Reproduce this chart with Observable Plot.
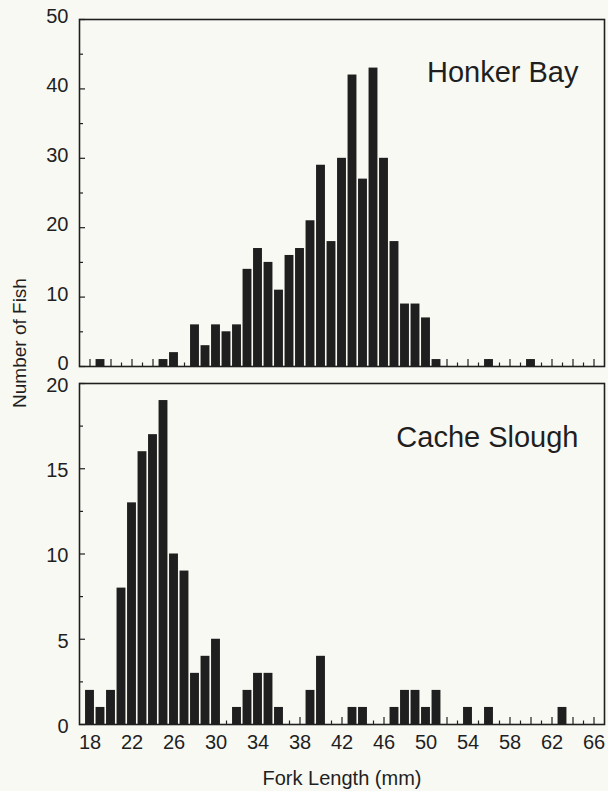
<!DOCTYPE html>
<html><head><meta charset="utf-8">
<script src="https://cdn.jsdelivr.net/npm/d3@7"></script>
<script src="https://cdn.jsdelivr.net/npm/@observablehq/plot@0.6"></script>
<style>
html,body{margin:0;padding:0;background:#f9f9f4;}
#wrap{position:relative;width:608px;height:791px;font-family:"Liberation Sans",Arial,sans-serif;}
#wrap svg{display:block}
#ylab{position:absolute;left:20px;top:343px;transform:translate(-50%,-50%) rotate(-90deg);font-size:19px;white-space:nowrap;color:#1f1f1f}
</style></head><body>
<div id="wrap"><div id="top"></div><div id="bottom"></div><div id="ylab">Number of Fish</div></div>
<script>
// Fork length bins (mm)
const forkLength = [18,19,20,21,22,23,24,25,26,27,28,29,30,31,32,33,34,35,36,37,38,39,40,41,42,43,44,45,46,47,48,49,50,51,52,53,54,55,56,57,58,59,60,61,62,63,64,65,66];
// Number of fish, Honker Bay
const honkerBay = [0,1,0,0,0,0,0,1,2,0,6,3,6,5,6,14,17,15,11,16,17,21,29,18,30,42,27,43,30,18,9,9,7,1,0,0,0,0,1,0,0,0,1,0,0,0,0,0,0];
// Number of fish, Cache Slough
const cacheSlough = [2,1,2,8,13,16,17,19,10,9,3,4,5,0,1,2,3,3,1,0,0,2,4,0,0,1,1,0,0,1,2,2,1,2,0,0,1,0,1,0,0,0,0,0,0,1,0,0,0];
// Tick values
const xTickLabels = [18,22,26,30,34,38,42,46,50,54,58,62,66];
const evenTicks = [18,20,22,24,26,28,30,32,34,36,38,40,42,44,46,48,50,52,54,56,58,60,62,64,66];
const oddTicks = [19,21,23,25,27,29,31,33,35,37,39,41,43,45,47,49,51,53,55,57,59,61,63,65];
const honkerMajorY = [0,10,20,30,40,50];
const honkerMinorY = [5,15,25,35,45];
const cacheMajorY = [0,5,10,15,20];
const cacheMinorY = [2.5,7.5,12.5,17.5];

const ink = "#1f1f1f";

function panel({counts, yDomain, majorY, minorY, title, height, marginTop, marginBottom, showX, titleDy, labelDy}) {
  const data = forkLength.map((len, i) => ({len, n: counts[i]})).filter(d => d.n > 0);
  const marks = [
    Plot.rectY(data, {x1: d => d.len - 0.5, x2: d => d.len + 0.5, y: "n", insetLeft: 0.8, insetRight: 0.8, fill: ink}),
    Plot.axisX(evenTicks, {tickSize: 7, dy: -7, fill: "none", stroke: ink, strokeWidth: 1.2, label: null}),
    Plot.axisX(oddTicks, {tickSize: 3.5, dy: -3.5, fill: "none", stroke: ink, strokeWidth: 1.2, label: null}),
    Plot.axisY(majorY, {tickSize: 6, dx: 6, fill: "none", stroke: ink, strokeWidth: 1.2, label: null}),
    Plot.axisY(minorY, {tickSize: 4, dx: 4, fill: "none", stroke: ink, strokeWidth: 1.2, label: null}),
    Plot.axisY(majorY, {tickSize: 0, tickPadding: 11, dy: labelDy, fontSize: 20, fill: ink, label: null}),
    Plot.frame({stroke: ink, strokeWidth: 1.6}),
    Plot.text([title], {frameAnchor: "top-right", dx: -26, dy: titleDy, lineAnchor: "middle", textAnchor: "end", fontSize: 29, fill: ink})
  ];
  if (showX) {
    marks.push(Plot.axisX(xTickLabels, {tickSize: 0, tickPadding: 10, fontSize: 20, fill: ink, label: null}));
    marks.push(Plot.text(["Fork Length (mm)"], {frameAnchor: "bottom", dy: 54, lineAnchor: "middle", fontSize: 20, fill: ink}));
  }
  return Plot.plot({
    width: 608, height, marginLeft: 79, marginRight: 4, marginTop, marginBottom,
    x: {domain: [17, 67]},
    y: {domain: yDomain, label: null},
    style: {background: "transparent", fontFamily: "Liberation Sans, Arial, sans-serif", color: ink, overflow: "visible"},
    marks
  });
}

document.getElementById("top").append(panel({
  counts: honkerBay, yDomain: [0, 50], majorY: honkerMajorY, minorY: honkerMinorY,
  title: "Honker Bay", height: 370, marginTop: 19, marginBottom: 4, showX: false, titleDy: 53, labelDy: -3
}));
document.getElementById("bottom").append(panel({
  counts: cacheSlough, yDomain: [0, 20], majorY: cacheMajorY, minorY: cacheMinorY,
  title: "Cache Slough", height: 421, marginTop: 13, marginBottom: 67, showX: true, titleDy: 54, labelDy: 2
}));
</script>
</body></html>
